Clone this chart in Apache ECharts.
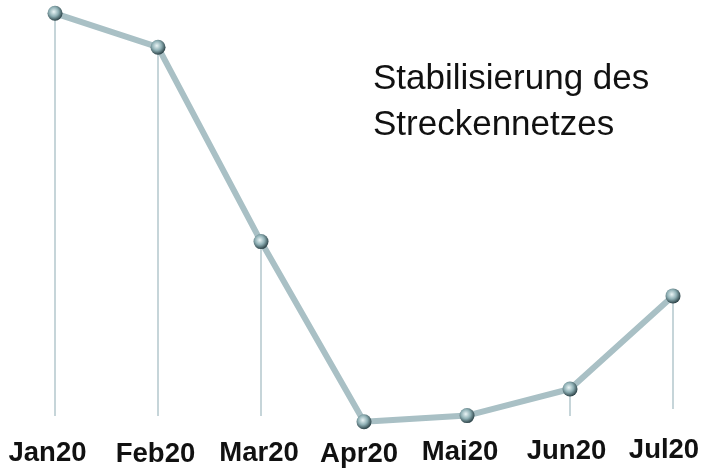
<!DOCTYPE html>
<html><head><meta charset="utf-8">
<script src="https://cdn.jsdelivr.net/npm/echarts@6/dist/echarts.min.js"></script>
<style>html,body{margin:0;padding:0;background:#fff}#c{width:704px;height:468px}</style>
</head><body><div id="c"></div>
<script>
const categories = ['Jan20','Feb20','Mar20','Apr20','Mai20','Jun20','Jul20'];
const values = [100, 91.7, 44.1, 0, 1.5, 8.0, 30.8];
const dropEnds = [1.4, 1.4, 1.4, 0, 1.5, 1.4, 3.1];
const annotation = ['Stabilisierung des', 'Streckennetzes'];

// label nudges in px (down, left) as seen in the reference
const labelDown = [0, 1, 0, 1, -1, -2, -3];
const labelLeft = [7.5, 2.5, 2, 5, 7, 3.5, 9];

const chart = echarts.init(document.getElementById('c'), null, {renderer:'canvas'});
const ball = {type:'radial', x:0.42, y:0.4, r:0.62, colorStops:[
  {offset:0, color:'#eaf5f6'},{offset:0.5, color:'#8fb0b5'},{offset:1, color:'#273d42'}]};
chart.setOption({
  animation:false,
  title:{text:annotation.join('\n'), left:368, top:51,
    textStyle:{fontFamily:'Liberation Sans, Arial', fontSize:35, fontWeight:'normal', color:'#111', lineHeight:46}},
  grid:{left:55, right:31, top:13.3, bottom:46.3, outerBoundsMode:'none', containLabel:false},
  xAxis:{type:'category', boundaryGap:false,
    data:categories.map((c,i)=>({value:c, textStyle:{padding:[labelDown[i]+3, labelLeft[i]*2, 0, 0]}})),
    axisLine:{show:false}, axisTick:{show:false}, splitLine:{show:false},
    axisLabel:{fontFamily:'Liberation Sans, Arial', fontSize:27.5, fontWeight:'bold', color:'#111', margin:15, interval:0, hideOverlap:false}},
  yAxis:{type:'value', min:0, max:100, show:false},
  series:[
    {type:'custom', z:1, silent:true,
     data:values.map((v,i)=>[i, v, dropEnds[i]]),
     renderItem:(params, api)=>{
       const top = api.coord([api.value(0), api.value(1)]);
       const bot = api.coord([api.value(0), api.value(2)]);
       if (bot[1] <= top[1]) return null;
       return {type:'line', shape:{x1:top[0], y1:top[1], x2:bot[0], y2:bot[1]},
         style:{stroke:'#b3c7cd', lineWidth:1.5}};
     }},
    {type:'line', z:2, data:values, symbol:'circle', symbolSize:15,
     lineStyle:{color:'#a9c0c5', width:6},
     itemStyle:{color:ball, borderWidth:0}}
  ]
});
</script></body></html>
